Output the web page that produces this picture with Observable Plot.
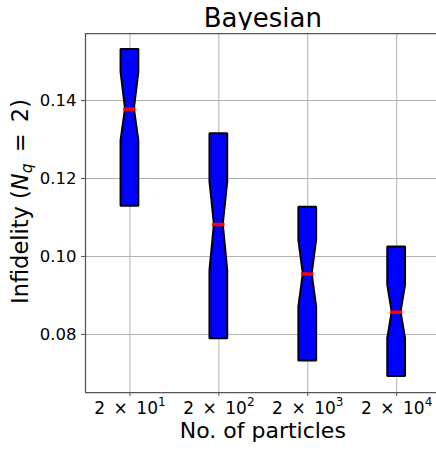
<!DOCTYPE html>
<html>
<head>
<meta charset="utf-8">
<script src="https://cdn.jsdelivr.net/npm/d3@7"></script>
<script src="https://cdn.jsdelivr.net/npm/@observablehq/plot@0.6"></script>
<style>
  body { margin: 0; background: #fff; font-family: "DejaVu Sans", sans-serif; }
  #wrap { position: relative; width: 436px; height: 450px; overflow: hidden; }
  #title { position: absolute; top: 5px; width: 300px; text-align: center;
           font-size: 26px; line-height: 26px; color: #000; white-space: nowrap; }
  #chart { position: absolute; top: 30px; left: 0; }
</style>
</head>
<body>
<div id="wrap">
  <div id="title">Bayesian</div>
  <div id="chart"></div>
</div>
<script>
// Number of particles used by the Bayesian estimator
const labels = ["2 × 10¹", "2 × 10²", "2 × 10³", "2 × 10⁴"];
// Infidelity distribution per particle count (notched box summaries)
const q1      = [0.1129, 0.0789, 0.0732, 0.0692];
const q3      = [0.1531, 0.1315, 0.1126, 0.1024];
const median  = [0.1378, 0.1082, 0.0955, 0.0857];
const notchLo = [0.1297, 0.0964, 0.0870, 0.0789];
const notchHi = [0.1472, 0.1191, 0.1041, 0.0926];
const yTicks  = [0.08, 0.10, 0.12, 0.14];
const yDomain = [0.0651, 0.1572];

const positions = labels.map((_, i) => i + 1);
const W = 0.1; // half box width in position units

const boxes = labels.map((label, i) => ({
  pos: positions[i], label,
  q1: q1[i], q3: q3[i], median: median[i], lo: notchLo[i], hi: notchHi[i]
}));

// Outline of each notched box: full width at the quartiles and notch ends,
// half width at the median
const outline = boxes.flatMap(b => [
  {pos: b.pos, v: b.q1, half: W},
  {pos: b.pos, v: b.lo, half: W},
  {pos: b.pos, v: b.median, half: W / 2},
  {pos: b.pos, v: b.hi, half: W},
  {pos: b.pos, v: b.q3, half: W}
]);

const spine = "#555";
const gridColor = "#b0b0b0";

const chart = Plot.plot({
  width: 436,
  height: 420,
  marginLeft: 85,
  marginTop: 3,
  marginBottom: 58,
  marginRight: 0,
  style: {fontFamily: "DejaVu Sans, sans-serif", fontSize: "16px", color: "#000", background: "white"},
  x: {type: "linear", domain: [0.5, 4.5], range: [85, 440.6]},
  y: {domain: yDomain},
  marks: [
    Plot.gridX(positions, {stroke: gridColor, strokeOpacity: 1, strokeWidth: 1}),
    Plot.gridY(yTicks, {stroke: gridColor, strokeOpacity: 1, strokeWidth: 1}),
    Plot.areaX(outline, {
      y: "v",
      x1: d => d.pos - d.half,
      x2: d => d.pos + d.half,
      z: "pos",
      fill: "blue",
      stroke: "black",
      strokeWidth: 2,
      strokeLinejoin: "miter",
      curve: "linear"
    }),
    Plot.ruleY(boxes, {
      y: "median",
      x1: d => d.pos - W / 2,
      x2: d => d.pos + W / 2,
      stroke: "red",
      strokeWidth: 3.5,
      strokeLinecap: "square"
    }),
    Plot.ruleX([0.5], {stroke: spine, strokeWidth: 1.25}),
    Plot.ruleY(yDomain, {stroke: spine, strokeWidth: 1.25}),
    Plot.axisX(positions, {
      tickFormat: p => labels[p - 1],
      tickSize: 4,
      tickPadding: 5,
      stroke: spine,
      label: null,
      fontSize: 17
    }),
    Plot.axisY(yTicks, {
      tickFormat: d3.format(".2f"),
      tickSize: 4,
      tickPadding: 5,
      stroke: spine,
      label: null,
      fontSize: 16.5
    })
  ]
});

document.getElementById("chart").appendChild(chart);

const xs = chart.scale("x");
const ys = chart.scale("y");
const xCenter = (xs.range[0] + xs.range[1]) / 2;
const yCenter = (ys.range[0] + ys.range[1]) / 2;

// Title centred over the axes
document.getElementById("title").style.left = (xCenter - 150) + "px";

const svg = d3.select(chart);

// Typeset the x tick labels: binary-operator spacing around ×,
// exponent as raised, smaller digits
const supDigits = {"¹": "1", "²": "2", "³": "3", "⁴": "4"};
svg.selectAll('[aria-label="x-axis tick label"] text').each(function() {
  const t = this.textContent;
  const last = t.slice(-1);
  if (!(last in supDigits)) return;
  const el = d3.select(this);
  el.text(null);
  el.append("tspan").text(t.slice(0, -1).replace(/ /g, "\u2002"));
  el.append("tspan").attr("font-size", 12).attr("dy", -7.5).text(supDigits[last]);
});

// x-axis label
svg.append("text")
  .attr("x", xCenter)
  .attr("y", 408)
  .attr("text-anchor", "middle")
  .attr("font-size", 22)
  .attr("fill", "#000")
  .text("No. of particles");

// y-axis label with math-style N subscript q
const yl = svg.append("text")
  .attr("transform", `translate(28,${yCenter - 11}) rotate(-90)`)
  .attr("text-anchor", "middle")
  .attr("font-size", 22.5)
  .attr("fill", "#000");
yl.append("tspan").text("Infidelity (");
yl.append("tspan").attr("font-style", "italic").text("N");
yl.append("tspan").attr("font-style", "italic").attr("font-size", 15.5).attr("dy", 4).text("q");
yl.append("tspan").attr("dy", -4).text("\u2002=\u20022)");
</script>
</body>
</html>
